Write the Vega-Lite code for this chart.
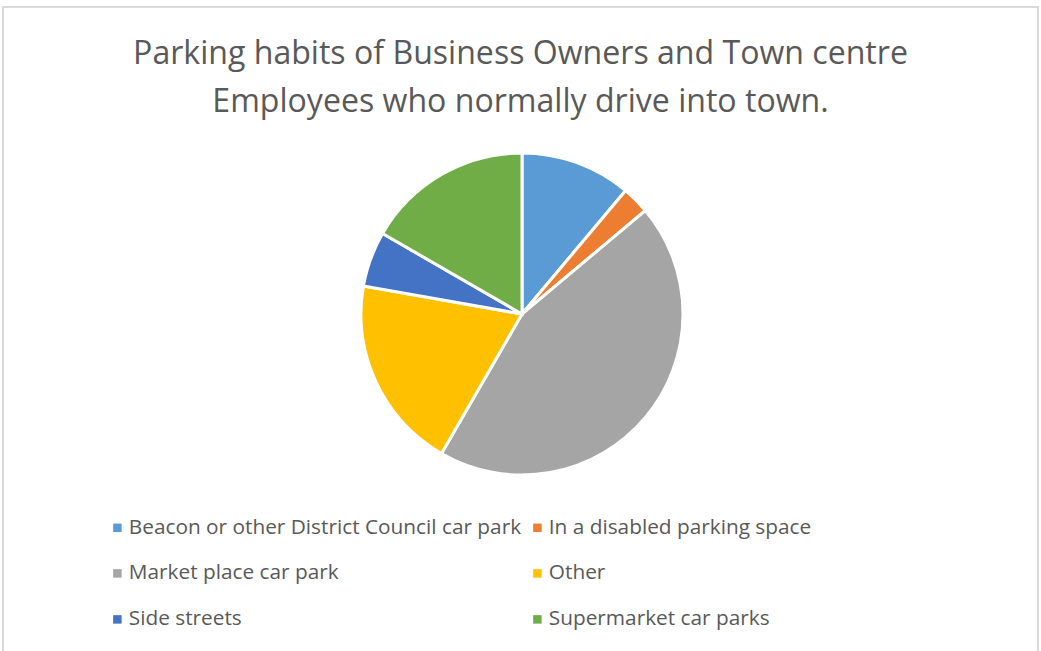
{
  "$schema": "https://vega.github.io/schema/vega-lite/v6.json",
  "autosize": {"type": "none"},
  "width": 1035,
  "height": 660,
  "padding": {"left": 3, "top": 7, "right": 3, "bottom": 0},
  "background": "white",
  "view": {"stroke": "#D9D9D9", "strokeWidth": 2, "fill": "white"},
  "config": {"view": {"stroke": "#D9D9D9", "strokeWidth": 2}},
  "title": {
    "text": ["Parking habits of Business Owners and Town centre", "Employees who normally drive into town."],
    "font": "Open Sans",
    "fontSize": 32.1,
    "fontWeight": "normal",
    "color": "#595959",
    "anchor": "middle",
    "frame": "group",
    "lineHeight": 48,
    "offset": -112
  },
  "data": {
    "values": [
      {"location": "Beacon or other District Council car park", "count": 4},
      {"location": "In a disabled parking space", "count": 1},
      {"location": "Market place car park", "count": 16},
      {"location": "Other", "count": 7},
      {"location": "Side streets", "count": 2},
      {"location": "Supermarket car parks", "count": 6}
    ]
  },
  "mark": {"type": "arc", "outerRadius": 161, "stroke": "white", "strokeWidth": 3, "xOffset": 1.5, "yOffset": -23},
  "encoding": {
    "theta": {"field": "count", "type": "quantitative", "stack": true},
    "order": {"field": "location", "type": "nominal", "sort": "ascending"},
    "color": {
      "field": "location",
      "type": "nominal",
      "scale": {
        "domain": ["Beacon or other District Council car park", "Market place car park", "Side streets", "In a disabled parking space", "Other", "Supermarket car parks"],
        "range": ["#5B9BD5", "#A5A5A5", "#4472C4", "#ED7D31", "#FFC000", "#70AD47"]
      },
      "legend": {
        "orient": "none",
        "legendX": 104,
        "legendY": 510,
        "columns": 2,
        "title": null,
        "symbolType": "square",
        "symbolSize": 72,
        "symbolStrokeWidth": 0,
        "labelFont": "Open Sans",
        "labelFontSize": 20.8,
        "labelColor": "#595959",
        "columnPadding": 5,
        "rowPadding": 24,
        "labelOffset": 1,
        "labelLimit": 0,
        "padding": 0
      }
    }
  }
}
